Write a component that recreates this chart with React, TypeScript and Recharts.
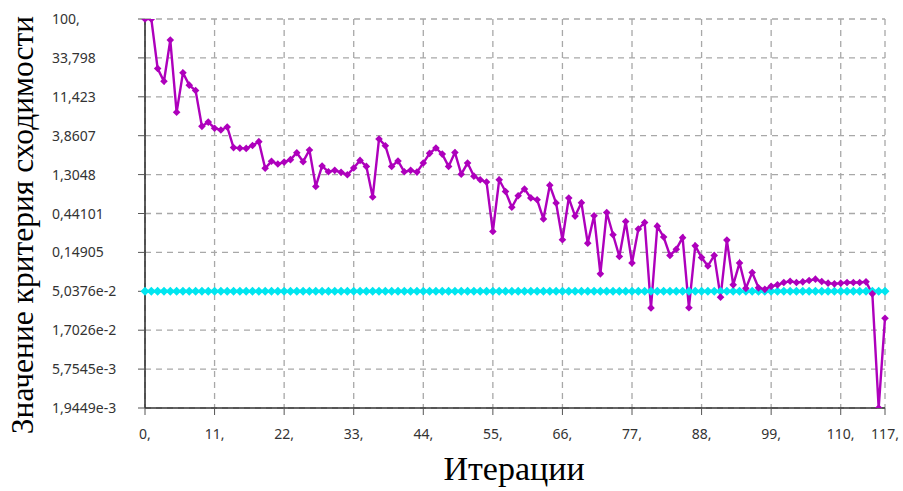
// @ts-nocheck
import { LineChart, Line, XAxis, YAxis, CartesianGrid } from "recharts";

// convergence criterion per iteration (0..117)
const convergence = [
  100, 100, 25.1, 17.6, 55.6, 7.41, 22.3, 15.8, 13.6, 5.01,
  5.64, 4.76, 4.53, 4.93, 2.77, 2.73, 2.71, 2.94, 3.27, 1.56,
  1.89, 1.75, 1.85, 1.98, 2.4, 1.87, 2.59, 0.938, 1.66, 1.41,
  1.47, 1.39, 1.3, 1.57, 1.94, 1.64, 0.698, 3.52, 2.92, 1.64,
  1.91, 1.41, 1.47, 1.4, 1.8, 2.36, 2.74, 2.31, 1.64, 2.42,
  1.32, 1.8, 1.25, 1.13, 1.06, 0.267, 1.13, 0.816, 0.525, 0.724,
  0.873, 0.681, 0.647, 0.378, 0.97, 0.59, 0.212, 0.68, 0.41, 0.595,
  0.193, 0.414, 0.082, 0.454, 0.244, 0.133, 0.353, 0.111, 0.286, 0.343,
  0.0317, 0.31, 0.229, 0.137, 0.163, 0.225, 0.0319, 0.179, 0.129, 0.102,
  0.137, 0.0428, 0.21, 0.0603, 0.111, 0.0547, 0.085, 0.0555, 0.0532, 0.0578,
  0.0603, 0.0643, 0.0668, 0.0643, 0.0656, 0.068, 0.0707, 0.0661, 0.0632, 0.062,
  0.0632, 0.0643, 0.0643, 0.0643, 0.0656, 0.0469, 0.0019449, 0.0238,
];

// target value of the criterion (cyan line)
const threshold = 0.050376;

const xTicks = [0, 11, 22, 33, 44, 55, 66, 77, 88, 99, 110, 117];
const yTicks = [0.0019449, 0.0057545, 0.017026, 0.050376, 0.14905, 0.44101, 1.3048, 3.8607, 11.423, 33.798, 100];
const yTickLabels = ["1,9449e-3", "5,7545e-3", "1,7026e-2", "5,0376e-2", "0,14905", "0,44101", "1,3048", "3,8607", "11,423", "33,798", "100,"];

const data = convergence.map((v, i) => ({ it: i, value: v, crit: threshold }));

const MAGENTA = "#AE00BC";
const CYAN = "#00E6F0";
const TICK_FONT = "'Noto Sans', 'Open Sans', sans-serif";
const TITLE_FONT = "'Liberation Serif', 'DejaVu Serif', serif";

const diamond = (color: string, r: number) => (props: any) => {
  const { cx, cy, index } = props;
  if (cx == null || cy == null) return <g key={index} />;
  return <path key={index} d={`M${cx},${cy - r}L${cx + r},${cy}L${cx},${cy + r}L${cx - r},${cy}Z`} fill={color} />;
};

const YTick = ({ y, payload }: any) => {
  const idx = yTicks.findIndex(t => Math.abs(t - payload.value) / t < 1e-4);
  return (
    <text x={52} y={y} dy={5} fontSize={14} fill="#333" fontFamily={TICK_FONT}>
      {idx >= 0 ? yTickLabels[idx] : ""}
    </text>
  );
};

const XTick = ({ x, y, payload }: any) => (
  <text x={x} y={y} dy={22} textAnchor="middle" fontSize={14} fill="#333" fontFamily={TICK_FONT}>
    {`${payload.value},`}
  </text>
);

const YTitle = () => (
  <text transform="translate(33,225) rotate(-90)" textAnchor="middle" fontSize={31.5} fontFamily={TITLE_FONT} fill="#000">
    Значение критерия сходимости
  </text>
);

const XTitle = () => (
  <text x={514} y={480} textAnchor="middle" fontSize={34} fontFamily={TITLE_FONT} fill="#000">
    Итерации
  </text>
);

export default function App() {
  return (
    <div style={{ position: "absolute", left: 0, top: 0, background: "#fff" }}>
      <LineChart width={903} height={491} data={data} margin={{ top: 19, right: 18, bottom: 0, left: 0 }}>
        <CartesianGrid stroke="#a8a8a8" strokeWidth={1.3} strokeDasharray="6 5" />
        <XAxis
          dataKey="it"
          type="number"
          domain={[0, 117]}
          ticks={xTicks}
          interval={0}
          height={83}
          tick={<XTick />}
          tickSize={7}
          tickLine={{ stroke: "#555" }}
          axisLine={{ stroke: "#333", strokeWidth: 1.6 }}
          label={<XTitle />}
        />
        <XAxis xAxisId="top" orientation="top" type="number" domain={[0, 117]} height={0} tick={false} tickLine={false} axisLine={{ stroke: "#333", strokeWidth: 1.6 }} />
        <YAxis
          type="number"
          scale="log"
          domain={[0.0019449, 100]}
          allowDataOverflow
          ticks={yTicks}
          interval={0}
          width={145}
          tick={<YTick />}
          tickSize={7}
          tickLine={{ stroke: "#555" }}
          axisLine={{ stroke: "#333", strokeWidth: 1.6 }}
          label={<YTitle />}
        />
        <YAxis yAxisId="right" orientation="right" type="number" domain={[0, 1]} width={0} tick={false} tickLine={false} axisLine={{ stroke: "#333", strokeWidth: 1.6 }} />
        <Line dataKey="crit" stroke={CYAN} strokeWidth={3} dot={diamond(CYAN, 4.5)} activeDot={false} isAnimationActive={false} />
        <Line dataKey="value" stroke={MAGENTA} strokeWidth={2.4} dot={diamond(MAGENTA, 3.8)} activeDot={false} isAnimationActive={false} />
      </LineChart>
    </div>
  );
}
